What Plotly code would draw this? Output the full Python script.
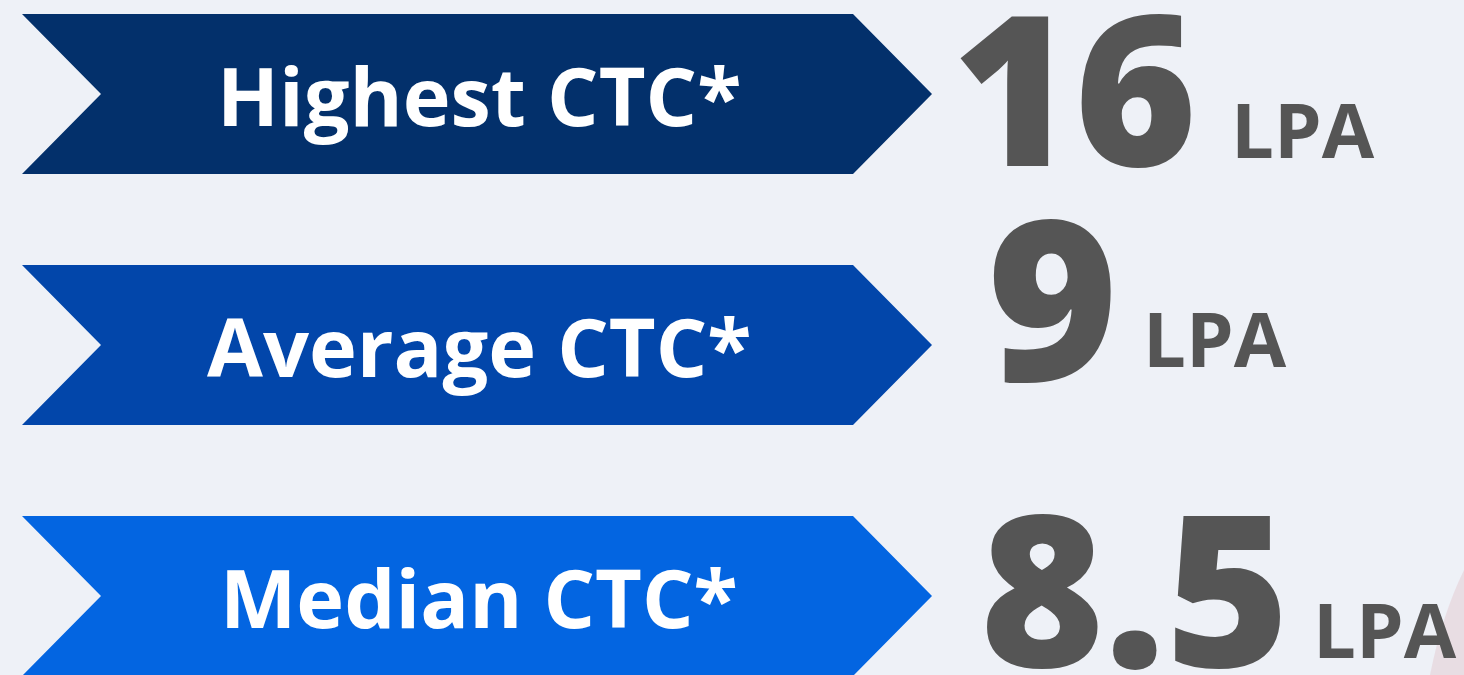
import plotly.graph_objects as go

# ---- data ----
labels = ["Highest CTC*", "Average CTC*", "Median CTC*"]
values = ["16", "9", "8.5"]
units = ["LPA", "LPA", "LPA"]
banner_colors = ["#03306B", "#0246AA", "#0365E1"]

W, H = 1464, 675
BG = "#EEF1F7"
fig = go.Figure()

# layout geometry
top0, band_h, gap = 14, 160, 251
x_left, notch, x_body, tip = 22, 79, 853, 79
num_x = [950, 985, 978]
unit_x = [1229, 1141, 1311]
num_size = [209, 224, 212]
unit_size = [76, 76, 76]
num_dy = [-9, -51, -12]
unit_dy = [34, -8, 32]

shapes = [
    # faint reddish background object in the bottom-right corner
    dict(type="path", path=f"M {W},{H-105} Q {W-22},{H-60} {W-34},{H} L {W},{H} Z",
         xref="x", yref="y", fillcolor="rgba(214,150,160,0.22)",
         line=dict(width=0), layer="below"),
]
annotations = []
for i, (lab, val, unit, col) in enumerate(zip(labels, values, units, banner_colors)):
    t = top0 + i * gap
    b = t + band_h
    m = (t + b) / 2
    path = (f"M {x_left},{t} L {x_body},{t} L {x_body+tip},{m} L {x_body},{b} "
            f"L {x_left},{b} L {x_left+notch},{m} Z")
    shapes.append(dict(type="path", path=path, xref="x", yref="y",
                       fillcolor=col, line=dict(width=0), layer="above"))
    annotations.append(dict(x=(x_left + notch + x_body) / 2 + 2, y=m, xref="x", yref="y",
                            text=lab, showarrow=False,
                            xanchor="center", yanchor="middle",
                            font=dict(family="Open Sans", size=81, color="white", weight=700)))
    annotations.append(dict(x=num_x[i], y=m + num_dy[i], xref="x", yref="y",
                            text=val, showarrow=False,
                            xanchor="left", yanchor="middle",
                            font=dict(family="Open Sans", size=num_size[i], color="#555555", weight=800)))
    annotations.append(dict(x=unit_x[i], y=m + unit_dy[i], xref="x", yref="y",
                            text=unit, showarrow=False,
                            xanchor="left", yanchor="middle",
                            font=dict(family="Open Sans", size=unit_size[i], color="#555555", weight=700)))

fig.update_layout(
    width=W, height=H,
    margin=dict(l=0, r=0, t=0, b=0),
    paper_bgcolor=BG, plot_bgcolor=BG,
    xaxis=dict(range=[0, W], visible=False, fixedrange=True),
    yaxis=dict(range=[H, 0], visible=False, fixedrange=True),
    shapes=shapes, annotations=annotations, showlegend=False,
)
fig.write_html("out.html", config={"displayModeBar": False},
               post_script=f"document.body.style.margin='0';document.body.style.background='{BG}';")
